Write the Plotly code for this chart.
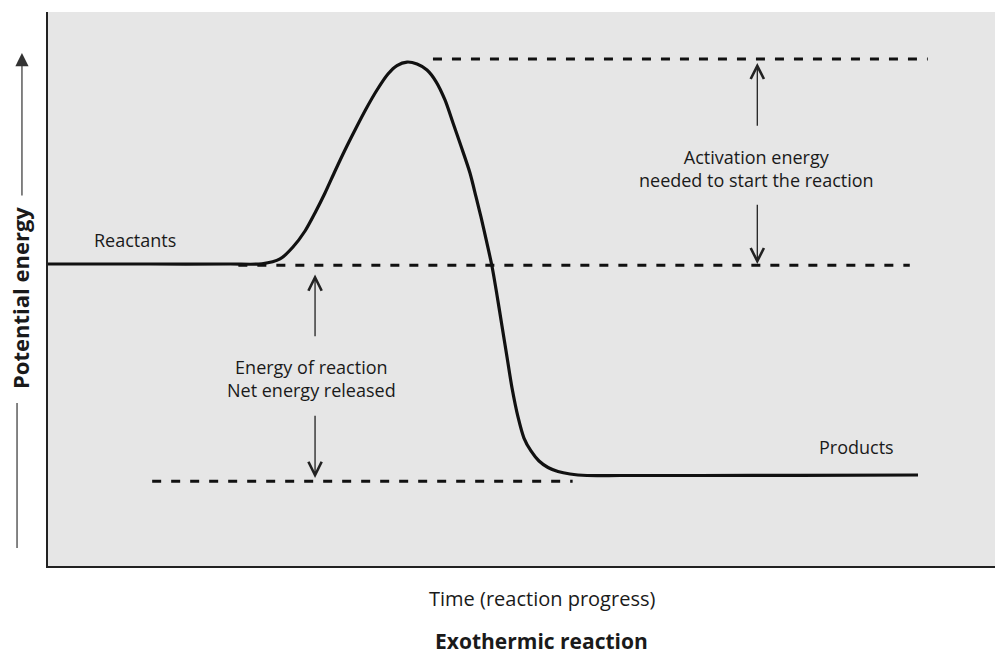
import plotly.graph_objects as go

# ---- data (reaction progress 0-100, potential energy 0-100) ----
progress = [0, 10.77, 19.22, 22.60, 24.50, 25.87, 27.14, 28.19, 29.25, 30.31, 31.36, 32.42,
            33.58, 34.74, 35.90, 36.85, 37.91, 38.97, 40.02, 40.97, 41.92, 42.77, 43.61,
            44.56, 45.20, 45.72, 46.25, 46.88, 47.41, 47.94, 48.47, 49.00, 49.63, 50.26,
            51.00, 51.85, 52.80, 53.85, 55.12, 56.92, 60.40, 68.85, 79.41, 91.87]
energy = [54.51, 54.51, 54.51, 54.55, 55.42, 57.58, 60.47, 63.72, 67.33, 71.30, 75.09, 78.70,
          82.49, 85.92, 88.81, 90.34, 90.97, 90.61, 89.53, 87.45, 84.12, 79.96, 75.81,
          70.94, 66.61, 63.00, 59.03, 54.15, 48.92, 43.32, 37.73, 32.13, 26.90, 23.10,
          20.76, 18.95, 17.78, 17.06, 16.61, 16.34, 16.34, 16.34, 16.37, 16.43]

peak_level = 91.5
reactant_level = 54.3
product_level = 15.3
peak_line_x = [40.65, 92.9]
reactant_line_x = [20.1, 91.0]
product_line_x = [11.0, 55.4]

activation_x = 74.9
activation_up = (79.2, 90.8)      # tail, head
activation_down = (65.5, 54.5)
reaction_x = 28.2
reaction_up = (41.2, 52.6)
reaction_down = (27.4, 15.9)

labels = {
    "Reactants": (9.2, 58.8),
    "Products": (85.4, 21.5),
    "Activation energy<br>needed to start the reaction": (74.8, 71.7),
    "Energy of reaction<br>Net energy released": (27.8, 33.8),
}

x_title = "Time (reaction progress)"
y_title = "Potential energy"
chart_title = "Exothermic reaction"

FONT = "Open Sans"
ink = "#111111"

fig = go.Figure()

dash = "9px,10px"
for xs, lvl in [(peak_line_x, peak_level), (reactant_line_x, reactant_level),
                (product_line_x, product_level)]:
    fig.add_trace(go.Scatter(x=xs, y=[lvl, lvl], mode="lines",
                             line=dict(color=ink, width=3, dash=dash),
                             hoverinfo="skip", showlegend=False))

fig.add_trace(go.Scatter(x=progress, y=energy, mode="lines",
                         line=dict(color=ink, width=3.2, shape="spline", smoothing=0.8),
                         hoverinfo="skip", showlegend=False))

annotations = []
for xa, (tail, head) in [(activation_x, activation_up), (activation_x, activation_down),
                         (reaction_x, reaction_up), (reaction_x, reaction_down)]:
    annotations.append(dict(x=xa, y=head, ax=xa, ay=tail, xref="x", yref="y",
                            axref="x", ayref="y", text="", showarrow=True,
                            arrowhead=5, arrowsize=2, arrowwidth=1.3,
                            arrowcolor="#222222", standoff=0, startstandoff=0))

for txt, (lx, ly) in labels.items():
    annotations.append(dict(x=lx, y=ly, xref="x", yref="y", text=txt, showarrow=False,
                            font=dict(family=FONT, size=18, color="#1a1a1a"),
                            align="center", xanchor="center", yanchor="middle"))

annotations.append(dict(x=0.522, y=-0.0578, xref="paper", yref="paper", text=x_title,
                        showarrow=False, font=dict(family=FONT, size=20, color="#1a1a1a"),
                        xanchor="center", yanchor="middle"))
annotations.append(dict(x=0.521, y=-0.1354, xref="paper", yref="paper",
                        text="<b>" + chart_title + "</b>", showarrow=False,
                        font=dict(family=FONT, size=21, color="#1a1a1a"),
                        xanchor="center", yanchor="middle"))
annotations.append(dict(x=-0.0296, y=0.4838, xref="paper", yref="paper",
                        text="<b>" + y_title + "</b>", showarrow=False, textangle=-90,
                        font=dict(family=FONT, size=22, color="#1a1a1a"),
                        xanchor="center", yanchor="middle"))
# arrow alongside the y title
annotations.append(dict(x=-0.0275, y=0.926, ax=-0.0275, ay=0.666,
                        xref="x domain", yref="y domain",
                        axref="x domain", ayref="y domain", text="", showarrow=True,
                        arrowhead=2, arrowsize=2.2, arrowwidth=1.2, arrowcolor="#333333",
                        standoff=0))

shapes = [dict(type="line", xref="paper", yref="paper", x0=-0.0327, x1=-0.0327,
               y0=0.294, y1=0.0325, line=dict(color="#333333", width=1.2))]

fig.update_layout(
    width=995, height=654,
    margin=dict(l=48, r=0, t=12, b=88),
    plot_bgcolor="#e6e6e6", paper_bgcolor="white",
    xaxis=dict(range=[0, 100], showticklabels=False, ticks="", showgrid=False,
               zeroline=False, showline=True, linecolor="#222222", linewidth=2),
    yaxis=dict(range=[0, 100], showticklabels=False, ticks="", showgrid=False,
               zeroline=False, showline=True, linecolor="#222222", linewidth=2),
    annotations=annotations, shapes=shapes, showlegend=False,
)

fig.write_html("out.html", config={"displayModeBar": False},
               post_script="document.body.style.margin='0';document.body.style.overflow='hidden';")
